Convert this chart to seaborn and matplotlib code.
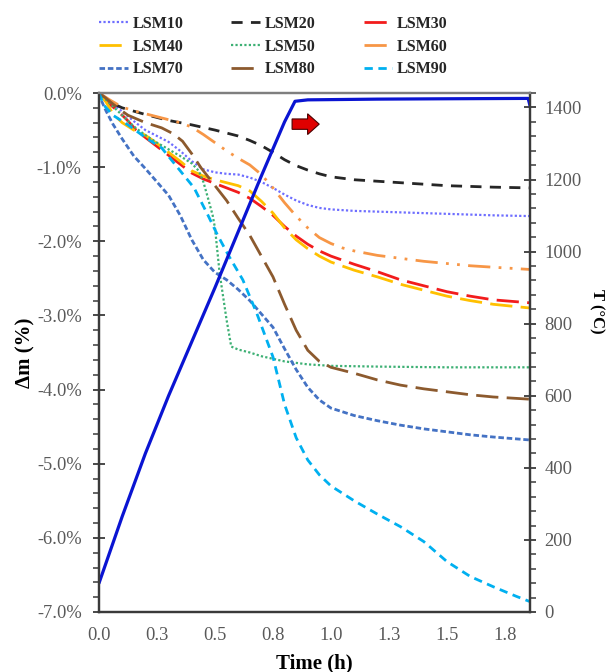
import numpy as np
import pandas as pd
import matplotlib
matplotlib.use("Agg")
import matplotlib.pyplot as plt
import seaborn as sns
from matplotlib.patches import FancyArrow
from matplotlib.ticker import MultipleLocator, FuncFormatter

# ---------------- data ----------------
t_lsm10 = [0, 0.05, 0.1, 0.15, 0.2, 0.25, 0.3, 0.35, 0.4, 0.45, 0.5, 0.55, 0.6, 0.65, 0.7, 0.75, 0.8, 0.85, 0.9, 0.95, 1.0, 1.1, 1.2, 1.3, 1.4, 1.5, 1.6, 1.7, 1.858]
dm_lsm10 = [0, -0.12, -0.25, -0.38, -0.5, -0.58, -0.66, -0.78, -0.92, -1.03, -1.07, -1.09, -1.1, -1.14, -1.2, -1.28, -1.37, -1.45, -1.51, -1.55, -1.57, -1.59, -1.6, -1.61, -1.62, -1.63, -1.64, -1.65, -1.66]

t_lsm20 = [0, 0.05, 0.1, 0.2, 0.3, 0.4, 0.5, 0.6, 0.65, 0.7, 0.75, 0.8, 0.85, 0.9, 0.95, 1.0, 1.1, 1.2, 1.3, 1.4, 1.5, 1.6, 1.7, 1.858]
dm_lsm20 = [0, -0.13, -0.2, -0.29, -0.37, -0.43, -0.5, -0.58, -0.64, -0.71, -0.8, -0.9, -0.98, -1.04, -1.09, -1.13, -1.17, -1.19, -1.21, -1.23, -1.25, -1.26, -1.27, -1.28]

t_lsm30 = [0, 0.03, 0.08, 0.12, 0.16, 0.2, 0.25, 0.3, 0.35, 0.4, 0.45, 0.5, 0.55, 0.6, 0.65, 0.7, 0.75, 0.8, 0.85, 0.9, 0.95, 1.0, 1.1, 1.2, 1.3, 1.4, 1.5, 1.6, 1.7, 1.858]
dm_lsm30 = [0, -0.11, -0.24, -0.36, -0.5, -0.6, -0.72, -0.84, -0.96, -1.08, -1.16, -1.22, -1.28, -1.34, -1.42, -1.53, -1.65, -1.8, -1.93, -2.04, -2.13, -2.2, -2.31, -2.41, -2.52, -2.6, -2.68, -2.74, -2.79, -2.83]

t_lsm40 = [0, 0.03, 0.06, 0.1, 0.15, 0.2, 0.25, 0.3, 0.35, 0.4, 0.45, 0.5, 0.55, 0.6, 0.65, 0.7, 0.75, 0.8, 0.85, 0.9, 0.95, 1.0, 1.1, 1.2, 1.3, 1.4, 1.5, 1.6, 1.7, 1.858]
dm_lsm40 = [0, -0.12, -0.28, -0.4, -0.5, -0.57, -0.68, -0.8, -0.92, -1.05, -1.12, -1.17, -1.21, -1.25, -1.32, -1.46, -1.62, -1.82, -1.98, -2.1, -2.2, -2.28, -2.39, -2.48, -2.58, -2.66, -2.74, -2.8, -2.85, -2.9]

t_lsm50 = [0, 0.05, 0.1, 0.15, 0.2, 0.25, 0.3, 0.35, 0.4, 0.43, 0.45, 0.47, 0.49, 0.5, 0.52, 0.54, 0.55, 0.57, 0.6, 0.65, 0.7, 0.8, 0.9, 1.0, 1.2, 1.5, 1.858]
dm_lsm50 = [0, -0.15, -0.3, -0.45, -0.57, -0.67, -0.76, -0.85, -0.95, -1.05, -1.2, -1.42, -1.65, -1.82, -2.43, -2.85, -3.06, -3.42, -3.46, -3.5, -3.55, -3.62, -3.66, -3.68, -3.69, -3.7, -3.7]

t_lsm60 = [0, 0.05, 0.1, 0.15, 0.2, 0.25, 0.3, 0.35, 0.4, 0.45, 0.5, 0.55, 0.6, 0.65, 0.7, 0.75, 0.8, 0.85, 0.9, 0.95, 1.0, 1.05, 1.1, 1.2, 1.3, 1.4, 1.5, 1.6, 1.7, 1.858]
dm_lsm60 = [0, -0.1, -0.19, -0.24, -0.28, -0.32, -0.36, -0.4, -0.46, -0.56, -0.67, -0.78, -0.88, -0.97, -1.1, -1.28, -1.48, -1.66, -1.82, -1.95, -2.03, -2.09, -2.13, -2.19, -2.23, -2.27, -2.3, -2.33, -2.35, -2.38]

t_lsm70 = [0, 0.01, 0.03, 0.06, 0.1, 0.15, 0.2, 0.25, 0.3, 0.35, 0.4, 0.45, 0.5, 0.55, 0.6, 0.65, 0.7, 0.75, 0.8, 0.85, 0.9, 0.95, 1.0, 1.1, 1.2, 1.3, 1.4, 1.5, 1.6, 1.7, 1.858]
dm_lsm70 = [0, -0.1, -0.24, -0.42, -0.62, -0.85, -1.02, -1.2, -1.38, -1.65, -1.98, -2.25, -2.42, -2.52, -2.65, -2.8, -2.98, -3.16, -3.45, -3.73, -3.97, -4.14, -4.25, -4.35, -4.42, -4.48, -4.53, -4.57, -4.61, -4.64, -4.68]

t_lsm80 = [0, 0.03, 0.08, 0.125, 0.2, 0.27, 0.32, 0.36, 0.4, 0.44, 0.5, 0.55, 0.6, 0.65, 0.7, 0.75, 0.8, 0.85, 0.9, 0.95, 1.0, 1.1, 1.2, 1.3, 1.4, 1.5, 1.6, 1.7, 1.858]
dm_lsm80 = [0, -0.07, -0.2, -0.3, -0.4, -0.47, -0.55, -0.65, -0.82, -1.01, -1.25, -1.45, -1.69, -1.92, -2.2, -2.48, -2.85, -3.2, -3.47, -3.62, -3.7, -3.78, -3.87, -3.94, -3.99, -4.03, -4.07, -4.1, -4.13]

t_lsm90 = [0, 0.02, 0.06, 0.125, 0.2, 0.27, 0.34, 0.41, 0.47, 0.51, 0.56, 0.62, 0.68, 0.75, 0.8, 0.85, 0.9, 0.95, 1.0, 1.1, 1.2, 1.3, 1.4, 1.5, 1.6, 1.7, 1.8, 1.858]
dm_lsm90 = [0, -0.16, -0.3, -0.43, -0.6, -0.74, -1.01, -1.28, -1.65, -1.91, -2.2, -2.52, -2.97, -3.56, -4.2, -4.65, -4.95, -5.15, -5.3, -5.5, -5.68, -5.85, -6.05, -6.32, -6.52, -6.66, -6.79, -6.86]

t_temp = [0, 0.1, 0.2, 0.3, 0.4, 0.5, 0.6, 0.7, 0.8, 0.845, 0.9, 1.2, 1.5, 1.85, 1.858]
temp_c = [80, 265, 440, 600, 750, 900, 1055, 1210, 1360, 1417, 1421, 1423, 1424, 1425, 1405]

series_names = ["LSM10", "LSM20", "LSM30", "LSM40", "LSM50", "LSM60", "LSM70", "LSM80", "LSM90"]
series_t = [t_lsm10, t_lsm20, t_lsm30, t_lsm40, t_lsm50, t_lsm60, t_lsm70, t_lsm80, t_lsm90]
series_dm = [dm_lsm10, dm_lsm20, dm_lsm30, dm_lsm40, dm_lsm50, dm_lsm60, dm_lsm70, dm_lsm80, dm_lsm90]

x_tick_vals = [0, 0.25, 0.5, 0.75, 1.0, 1.25, 1.5, 1.75]
x_tick_labels = ["0.0", "0.3", "0.5", "0.8", "1.0", "1.3", "1.5", "1.8"]

# ---------------- styles ----------------
styles = {
    "LSM10": dict(color="#6E6EFF", lw=1.6, ls=(0, (1, 1))),
    "LSM20": dict(color="#262626", lw=2.0, ls=(0, (4, 3))),
    "LSM30": dict(color="#F21C1C", lw=2.0, ls=(0, (8, 3))),
    "LSM40": dict(color="#FFC000", lw=2.0, ls=(0, (8, 3))),
    "LSM50": dict(color="#3DB074", lw=1.6, ls=(0, (1, 1))),
    "LSM60": dict(color="#F79646", lw=2.0, ls=(0, (8, 3, 1, 3, 1, 3))),
    "LSM70": dict(color="#4472C4", lw=2.0, ls=(0, (2, 1))),
    "LSM80": dict(color="#8C5A2E", lw=2.0, ls=(0, (8, 3))),
    "LSM90": dict(color="#00B0F0", lw=2.0, ls=(0, (3, 2))),
}

sns.set_theme(style="white")
plt.rcParams["font.family"] = ["Liberation Serif", "DejaVu Serif"]
plt.rcParams["axes.unicode_minus"] = False

fig = plt.figure(figsize=(6.12, 6.72), dpi=100)
ax = fig.add_axes([99 / 612, 1 - 612 / 672, (530 - 99) / 612, (612 - 93) / 672])
ax2 = ax.twinx()

handles = {}
for name, tt, dd in zip(series_names, series_t, series_dm):
    st = styles[name]
    df = pd.DataFrame({"t": tt, "dm": dd})
    sns.lineplot(data=df, x="t", y="dm", ax=ax, color=st["color"], linewidth=st["lw"],
                 linestyle=st["ls"], label=name, legend=False, sort=True)
    handles[name] = ax.lines[-1]

df_t = pd.DataFrame({"t": t_temp, "T": temp_c})
sns.lineplot(data=df_t, x="t", y="T", ax=ax2, color="#0A14D2", linewidth=2.3, legend=False)

# axes ranges / ticks
ax.set_xlim(0, 1.858)
ax.set_ylim(-7, 0)
ax2.set_ylim(0, 1440)

ax.set_xticks(x_tick_vals)
ax.set_xticklabels(x_tick_labels)
ax.xaxis.set_minor_locator(MultipleLocator(0.05))
ax.yaxis.set_major_locator(MultipleLocator(1))
ax.yaxis.set_minor_locator(MultipleLocator(0.2))
ax.yaxis.set_major_formatter(FuncFormatter(lambda v, p: f"{v:.1f}%".replace("-0.0", "0.0")))
ax2.yaxis.set_major_locator(MultipleLocator(200))
ax2.yaxis.set_minor_locator(MultipleLocator(40))

tick_col = "#595959"
spine_col = "#3a3a3a"
for a in (ax, ax2):
    a.tick_params(which="major", direction="inout", length=9, width=1.3, color=spine_col,
                  labelsize=13.3, labelcolor=tick_col)
    a.tick_params(which="minor", direction="out", length=4, width=1.1, color=spine_col)
    for s in a.spines.values():
        s.set_color(spine_col)
        s.set_linewidth(1.6)
    a.grid(False)
ax.tick_params(axis="y", which="major", pad=8)
ax.tick_params(axis="x", which="major", pad=6)
ax2.tick_params(axis="y", which="major", left=False, right=True, pad=6)
ax2.tick_params(axis="y", which="minor", left=False, right=True)
ax.tick_params(axis="x", which="both", top=False)
ax.tick_params(axis="y", which="both", right=False)
ax.spines["top"].set_color("#7f7f7f")
ax2.spines["top"].set_color("#7f7f7f")

ax.set_xlabel("Time (h)", fontsize=15, fontweight="bold", color="black", labelpad=7)
ax.set_ylabel("Δm (%)", fontsize=15, fontweight="bold", color="black", labelpad=1)
ax2.set_ylabel("T (°C)", fontsize=12, fontweight="bold", color="black", rotation=270,
               va="center", ha="center")
ax2.yaxis.set_label_coords((597 - 99) / 431, (612 - 311) / 519)

# red arrow pointing to the temperature axis
ax.add_patch(FancyArrow(0.448, 0.940, 0.036, 0.0, width=0.02, head_width=0.04,
                        head_length=0.027, length_includes_head=False,
                        transform=ax.transAxes, facecolor="#E00000",
                        edgecolor="#4a0000", linewidth=0.8, zorder=5))

# legend: row-wise order in 3 columns
order = ["LSM10", "LSM40", "LSM70", "LSM20", "LSM50", "LSM80", "LSM30", "LSM60", "LSM90"]
leg = fig.legend([handles[n] for n in order], order, loc="upper left",
                 bbox_to_anchor=(99 / 612, 1 - 16 / 672), ncol=3, frameon=False,
                 prop={"family": "Liberation Serif", "weight": "bold", "size": 11.5},
                 handlelength=1.8, handletextpad=0.3, columnspacing=3.0,
                 labelspacing=0.42, borderpad=0, borderaxespad=0)

fig.savefig("out.png", dpi=100)
